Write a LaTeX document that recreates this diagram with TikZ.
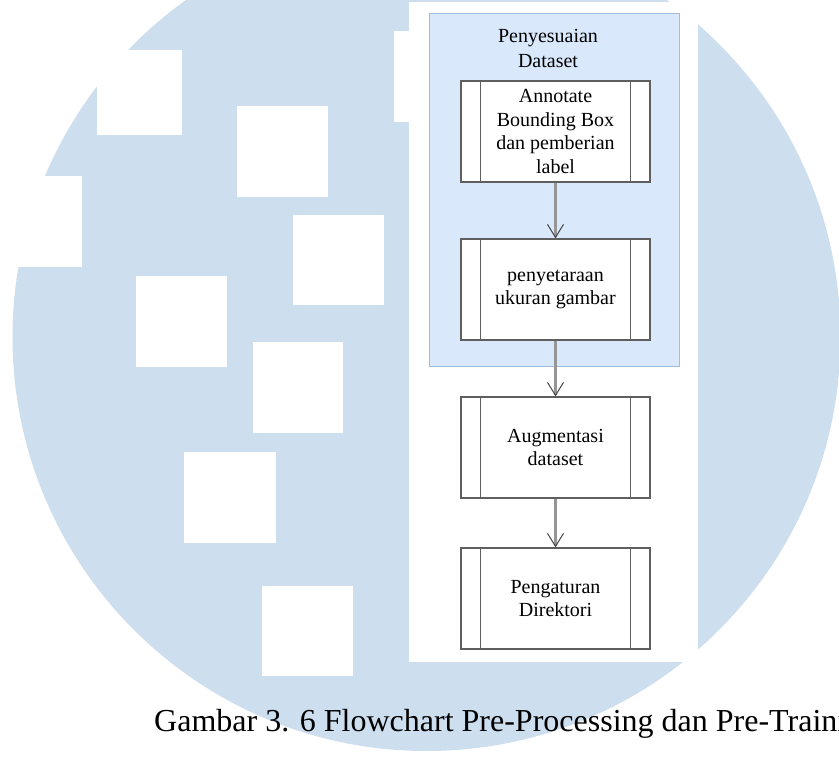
\documentclass[tikz,border=0pt]{standalone}
\usepackage{fontspec}
\setmainfont{Liberation Serif}
\usetikzlibrary{arrows.meta}

\definecolor{wmblue}{RGB}{205,222,238}
\definecolor{grpfill}{RGB}{218,232,252}
\definecolor{grpline}{RGB}{162,188,222}
\definecolor{boxline}{RGB}{95,95,95}
\definecolor{flowline}{RGB}{150,150,150}
\definecolor{headline}{RGB}{70,70,70}

\begin{document}
\begin{tikzpicture}[x=1pt,y=-1pt,
  procbox/.style={draw=boxline, line width=1.3pt, fill=white,
    minimum width=189pt, minimum height=101pt, inner sep=0pt,
    align=center, font=\fontsize{20}{23.7}\selectfont},
  sidebar/.style={draw=boxline, line width=1.3pt},
  flow/.style={draw=flowline, line width=2.6pt,
    -{Straight Barb[length=13pt,width=16pt,line width=1pt,color=headline]}},
  wsq/.style={fill=white},
  grouptitle/.style={align=center, inner sep=0pt,
    font=\fontsize{20}{25}\selectfont}
]
\useasboundingbox (0,0) rectangle (839,758);
\clip (0,0) rectangle (839,758);
\fill[white] (0,0) rectangle (839,758);

% watermark disc with its white squares
\fill[wmblue] (426.5,337) circle[radius=414pt];
\foreach \xa/\ya/\xb/\yb in {97/50/182/135, 237/106/328/197, 0/176/82/267,
    293/215/384/305, 136/276/227/367, 253/342/343/433, 184/452/276/543,
    262/586/353/676, 394/31/485/122}
  \fill[wsq] (\xa,\ya) rectangle (\xb,\yb);

% white sheet behind the flowchart
\fill[white] (409,2) rectangle (698,662);

% group container
\draw[fill=grpfill, draw=grpline, line width=1pt] (429,13) rectangle (679,366);
\node[grouptitle] (gtitle) at (548,48) {Penyesuaian\\Dataset};

% predefined-process steps
\node[procbox] (b1) at (555.5,131.5) {Annotate\\Bounding Box\\dan pemberian\\label};
\node[procbox] (b2) at (555.5,289.5) {penyetaraan\\ukuran gambar};
\node[procbox] (b3) at (555.5,447.5) {Augmentasi\\dataset};
\node[procbox] (b4) at (555.5,598.5) {Pengaturan\\Direktori};

\foreach \b in {b1,b2,b3,b4}{
  \draw[sidebar] ([xshift=20pt]\b.north west) -- ([xshift=20pt]\b.south west);
  \draw[sidebar] ([xshift=-20pt]\b.north east) -- ([xshift=-20pt]\b.south east);
}

% connectors
\draw[flow] (b1.south) -- (b2.north);
\draw[flow] (b2.south) -- (b3.north);
\draw[flow] (b3.south) -- (b4.north);

% caption
\node[anchor=base west, inner sep=0pt, font=\fontsize{32}{38}\selectfont]
  (cap) at (154,731) {Gambar 3. 6 Flowchart Pre-Processing dan Pre-Traini};
\end{tikzpicture}
\end{document}
